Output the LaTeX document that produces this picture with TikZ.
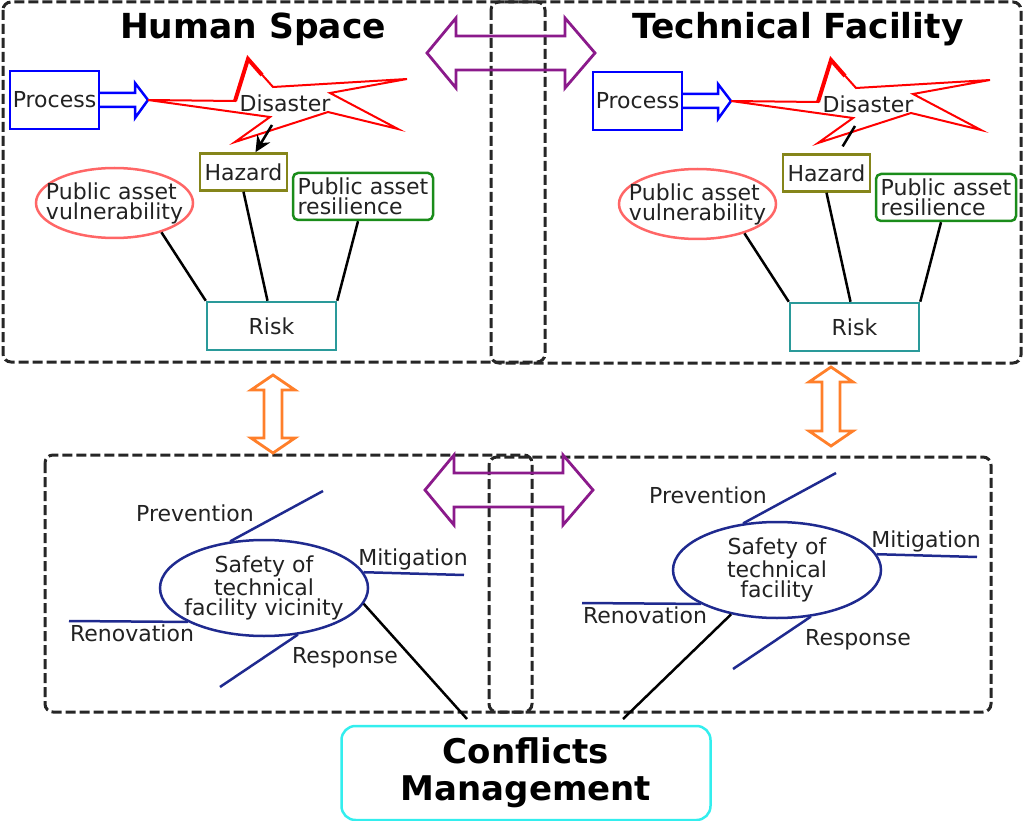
\documentclass[tikz,border=0pt]{standalone}
\usepackage{fontspec}
\setmainfont{DejaVu Sans}
\usetikzlibrary{arrows.meta,shapes.geometric}
\definecolor{txtcol}{HTML}{222222}
\definecolor{hazcol}{HTML}{85851A}
\definecolor{vulcol}{HTML}{FF6666}
\definecolor{rescol}{HTML}{1A8C1A}
\definecolor{riskcol}{HTML}{2A9A9A}
\definecolor{navycol}{HTML}{1F2A8F}
\definecolor{purpcol}{HTML}{8B1A8B}
\definecolor{orancol}{HTML}{FF7F2A}
\definecolor{cmcol}{HTML}{33EEEE}
\newcommand\hdarrow[3]{\draw[dblarrow=purpcol] (#1,#3) -- ++(29,-35) -- ++(0,18) -- ({#2-30},{#3-17}) -- ++(0,-18) -- (#2,#3) -- ++(-30,35) -- ++(0,-18) -- ({#1+29},{#3+17}) -- ++(0,18) -- cycle;}
\newcommand\vdarrow[3]{\draw[dblarrow=orancol] (#1,#2) -- ++(22,15) -- ++(-13,0) -- ({#1+9},{#3-15}) -- ++(13,0) -- (#1,#3) -- ++(-22,-15) -- ++(13,0) -- ({#1-9},{#2+15}) -- ++(-13,0) -- cycle;}
\begin{document}
\begin{tikzpicture}[x=1pt,y=-1pt,
  every node/.style={font=\fontsize{22}{20}\selectfont,text=txtcol,inner sep=0pt},
  panel/.style={draw=black!85,line width=3pt,dash pattern=on 10pt off 4pt,rounded corners=8pt},
  title/.style={font=\bfseries\fontsize{34.5}{38}\selectfont,text=black},
  dblarrow/.style={draw=#1,line width=2.8pt,line join=miter},
  link/.style={draw=black,line width=2.5pt},
  spoke/.style={draw=navycol,line width=2.5pt},
  hzL/.style={-{Stealth[length=16pt,width=15pt]}},
  hzR/.style={shorten >=8pt}]
\useasboundingbox (0,0) rectangle (1023,821);
\draw[panel] (3,2) rectangle (545,362);
\draw[panel] (491,2) rectangle (1021,363);
\draw[panel] (45,455) rectangle (532,712);
\draw[panel] (489,457) rectangle (991,712);
\node[title] (hs) at (253,29) {Human Space};
\node[title] (tf) at (798,29) {Technical Facility};
\foreach \p/\dx/\dy in {L/0/0,R/583/1}{
\begin{scope}[shift={(\dx,\dy)}]
  \node[draw=blue,line width=2.5pt,minimum width=89pt,minimum height=58pt] (proc\p) at (54.5,100) {Process};
  \draw[blue,line width=2.5pt,line join=miter] (99,93) -- (135,93) -- (135,83) -- (148,100) -- (135,118) -- (135,107) -- (99,107);
  \draw[red,line width=2pt,fill=white,line join=miter] (148,100) -- (235,101) -- (248,59) -- (273,87) -- (407,79) -- (330,93) -- (398,129) -- (328,112) -- (235,142) -- (270,117) -- cycle;
  \draw[red,line width=4pt] (235,101) -- (248,59) -- (262,75);
  \node (dis\p) at (285,103) {Disaster};
  \coordinate (ds\p) at (272,125);
  \node[draw=hazcol,line width=2.5pt,minimum width=87pt,minimum height=37pt] (haz\p) at (243.5,172) {Hazard};
  \node[ellipse,draw=vulcol,line width=2.5pt,inner xsep=-20pt,minimum width=157pt,minimum height=70pt,align=left] (vul\p) at (114.5,203) {Public asset\\vulnerability};
  \node[draw=rescol,line width=2.5pt,rounded corners=5pt,minimum width=140pt,minimum height=47pt,align=left] (res\p) at (363,196.5) {Public asset\\resilience};
  \node[draw=riskcol,line width=2.5pt,minimum width=129pt,minimum height=48pt] (risk\p) at (271.5,326) {Risk};
  \draw[link,hz\p] (ds\p) -- (haz\p);
  \draw[link] (vul\p.-32) -- (risk\p.north west);
  \draw[link] (haz\p.south) -- ([xshift=-4pt]risk\p.north);
  \draw[link] ([xshift=-5pt]res\p.south) -- (risk\p.north east);
\end{scope}}
\foreach \p/\dx/\dy/\txt in {L/0/0/facility vicinity,R/513/-18/facility}{
\begin{scope}[shift={(\dx,\dy)}]
  \node[ellipse,draw=navycol,line width=2.5pt,inner xsep=-25pt,minimum width=208pt,minimum height=96pt,align=center] (saf\p) at (264,588) {Safety of\\technical\\\txt};
  \coordinate (pv\p) at (323,491);
  \coordinate (mi\p) at (464,575);
  \coordinate (rn\p) at (69,621);
  \coordinate (rs\p) at (220,687);
  \node (pvt\p) at (195,513) {Prevention};
  \node (mit\p) at (413,559) {Mitigation};
  \node (rnt\p) at (132,633) {Renovation};
  \node (rst\p) at (345,658) {Response};
  \draw[spoke] (saf\p.126) -- (pv\p);
  \draw[spoke] (saf\p.9) -- (mi\p);
  \draw[spoke] (saf\p.204) -- (rn\p);
  \draw[spoke] (saf\p.-54) -- (rs\p);
\end{scope}}
\node[draw=cmcol,line width=2.5pt,rounded corners=14pt,minimum width=369pt,minimum height=94pt,align=center,font=\bfseries\fontsize{34}{37}\selectfont,text=black] (cm) at (526,773) {Conflicts\\Management};
\coordinate (cmL) at (467,719);
\coordinate (cmR) at (623,719);
\draw[link] (safL.-9) -- (cmL);
\draw[link] (safR.224) -- (cmR);
\hdarrow{427}{595}{53}
\hdarrow{425}{593}{490}
\vdarrow{273}{375}{453}
\vdarrow{831}{367}{446}
\end{tikzpicture}
\end{document}
